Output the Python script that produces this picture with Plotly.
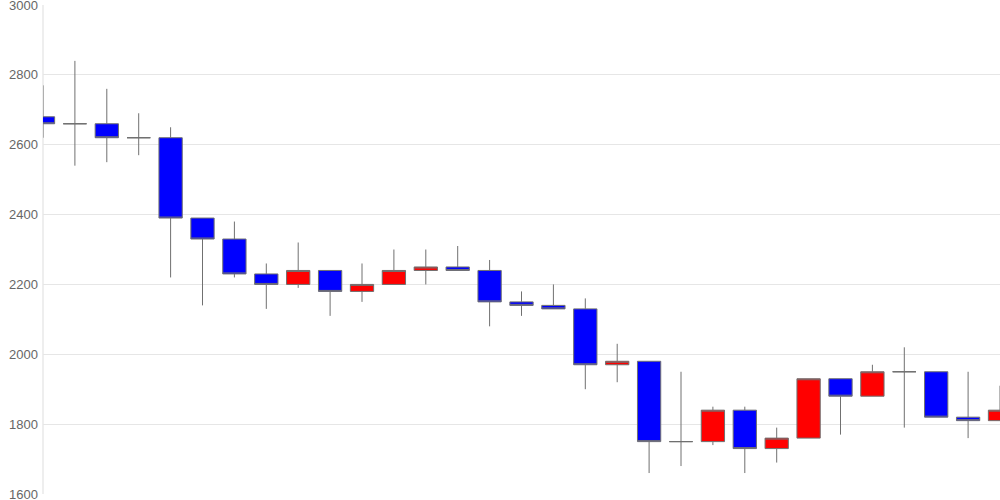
import plotly.graph_objects as go

# daily candles, left to right
days = list(range(31))
open_ = [2680, 2660, 2660, 2620, 2620, 2390, 2330, 2230, 2200, 2240, 2180, 2200, 2240, 2250, 2240, 2150,
         2140, 2130, 1970, 1980, 1750, 1750, 1840, 1730, 1760, 1930, 1880, 1950, 1950, 1820, 1810]
high = [2770, 2840, 2760, 2690, 2650, 2390, 2380, 2260, 2320, 2240, 2260, 2300, 2300, 2310, 2270, 2180,
        2200, 2160, 2030, 1980, 1950, 1850, 1850, 1790, 1930, 1930, 1970, 2020, 1950, 1950, 1910]
low = [2620, 2540, 2550, 2570, 2220, 2140, 2220, 2130, 2190, 2110, 2150, 2200, 2200, 2240, 2080, 2110,
       2130, 1900, 1920, 1660, 1680, 1740, 1660, 1690, 1760, 1770, 1880, 1790, 1820, 1760, 1810]
close = [2660, 2660, 2620, 2620, 2390, 2330, 2230, 2200, 2240, 2180, 2200, 2240, 2250, 2240, 2150, 2140,
         2130, 1970, 1980, 1750, 1750, 1840, 1730, 1760, 1930, 1880, 1950, 1950, 1820, 1810, 1840]
y_ticks = [1600, 1800, 2000, 2200, 2400, 2600, 2800, 3000]

fig = go.Figure()
fig.add_trace(go.Candlestick(x=days, open=open_, high=high, low=low, close=close,
                             increasing_fillcolor="#ff0000", increasing_line_color="#707070", increasing_line_width=1,
                             decreasing_fillcolor="#0000ff", decreasing_line_color="#707070", decreasing_line_width=1,
                             whiskerwidth=0, showlegend=False, hoverinfo="x+y"))

fig.update_xaxes(range=[0, 30], autorange=False, showgrid=False, showticklabels=False, zeroline=False,
                 rangeslider_visible=False, showline=False, ticks="", automargin=False)
fig.update_yaxes(range=[1600, 3000], autorange=False, tickvals=y_ticks, showgrid=True, gridcolor="#e6e6e6",
                 gridwidth=1, zeroline=False, automargin=False, ticklabeloverflow="allow",
                 tickfont=dict(family="Liberation Sans, Arial", size=13, color="#666666"),
                 ticks="", ticklabelstandoff=4)
fig.update_layout(width=1000, height=500, margin=dict(l=43, r=0, t=5, b=6),
                  paper_bgcolor="white", plot_bgcolor="white", boxgap=0.27, boxgroupgap=0,
                  shapes=[dict(type="line", xref="paper", yref="paper", x0=0, x1=0, y0=0, y1=1,
                               line=dict(color="#dddddd", width=1), layer="below")])

# page has a default 8px body margin; drop it so the plot sits at 0,0
fig.write_html("out.html", config={"displayModeBar": False},
               post_script="document.body.style.margin='0';")
